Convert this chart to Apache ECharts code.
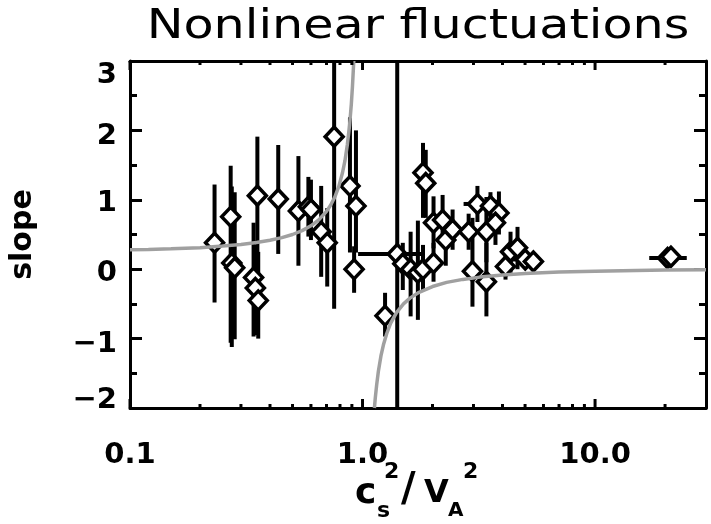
<!DOCTYPE html>
<html>
<head>
<meta charset="utf-8">
<script src="https://cdn.jsdelivr.net/npm/echarts@6/dist/echarts.min.js"></script>
<style>
html,body{margin:0;padding:0;background:#fff;}
#chart{width:711px;height:524px;}
</style>
</head>
<body>
<div id="chart"></div>
<script>
// ---- data ----
const pointX = [0.231,0.271,0.274,0.282,0.353,0.340,0.346,0.356,0.434,0.530,0.585,0.600,0.664,0.705,0.755,0.883,0.937,0.920,
  1.41,1.25,1.49,1.61,1.73,1.82,1.82,1.87,2.02,2.02,2.21,2.28,2.44,2.86,3.12,2.97,3.41,3.55,3.86,3.41,3.73,4.12,4.33,4.64,5.01,5.43,20.5,21.2];
const pointY = [0.38,0.755,0.09,0.02,1.06,-0.12,-0.27,-0.45,1.01,0.84,0.90,0.86,0.54,0.38,1.91,1.20,0.91,0.00,
  0.22,-0.67,0.08,0.00,-0.05,0.00,1.39,1.24,0.09,0.67,0.71,0.42,0.57,0.54,0.94,-0.03,-0.18,0.91,0.81,0.54,0.67,0.04,0.25,0.31,0.14,0.11,0.16,0.18];
const errHi = [1.22,1.49,1.19,1.11,1.91,0.67,0.35,0.25,1.79,1.63,1.33,1.29,1.20,0.88,4.4,2.19,2.0,0.33,
  6.0,-0.34,0.38,0.54,0.70,0.35,1.82,1.72,0.38,1.05,1.07,0.80,0.86,0.80,1.20,0.74,0.38,1.11,1.12,1.04,1.00,0.23,0.54,0.61,0.22,0.18,0.20,0.22];
const errLo = [-0.48,-1.06,-1.12,-1.01,0.24,-0.97,-0.95,-1.0,0.22,0.05,0.47,0.42,-0.11,-0.25,-0.57,0.24,0.24,-0.34,
  -6.0,-0.97,-0.30,-0.68,-0.73,-0.30,0.74,0.74,-0.18,0.30,0.35,0.05,0.28,0.28,0.68,-0.54,-0.68,0.60,0.50,0.10,0.35,-0.15,-0.05,0.00,0.06,0.04,0.12,0.14];
const xErrLo = {18:0.957, 19:1.18, 32:2.72, 42:4.30, 44:17.1};
const xErrHi = {18:1.83, 19:1.32, 32:3.50, 42:5.81, 44:24.8};

const curveLeftX = [0.1,0.12,0.15,0.2,0.25,0.3,0.35,0.4,0.45,0.5,0.55,0.6,0.65,0.7,0.73,0.76,0.79,0.82,0.84,0.86,0.88,0.895,0.905,0.917];
const curveLeftY = [0.28,0.284,0.294,0.31,0.333,0.357,0.385,0.417,0.455,0.5,0.556,0.625,0.714,0.833,0.926,1.04,1.19,1.39,1.56,1.79,2.08,2.38,2.63,3.0];
const curveRightX = [1.125,1.135,1.15,1.17,1.2,1.23,1.27,1.32,1.4,1.5,1.6,1.75,2,2.3,2.7,3.2,4,5,7,10,15,20,30];
const curveRightY = [-2.0,-1.85,-1.67,-1.47,-1.25,-1.09,-0.93,-0.78,-0.625,-0.5,-0.417,-0.333,-0.25,-0.19,-0.147,-0.114,-0.083,-0.0625,-0.042,-0.028,-0.018,-0.013,-0.009];

const xMajorTicks = [0.1, 1, 10];
const xMajorLabels = ['0.1', '1.0', '10.0'];
const xMinorTicks = [0.2,0.3,0.4,0.5,0.6,0.7,0.8,0.9,2,3,4,5,6,7,8,9,20];
const yTickValues = [-2, -1, 0, 1, 2, 3];
const yTickLabels = ['\u22122', '\u22121', '0', '1', '2', '3'];

const titleText = 'Nonlinear fluctuations';
const yName = 'slope';

// ---- chart ----
const chart = echarts.init(document.getElementById('chart'), null, {renderer: 'canvas'});
const FONT = 'DejaVu Sans';
const tickValues = xMajorTicks.map(v => [v, 1]).concat(xMinorTicks.map(v => [v, 0]));

// vertical nudges of the y tick labels (px, + = down)
const yLabelShift = [-8, 6, 4, 4, 6, 14];
const yRich = {};
yTickValues.forEach(function (v, k) {
  const s = yLabelShift[k];
  yRich['l' + k] = {
    color: '#000', fontFamily: FONT, fontSize: 29, fontWeight: 'bold',
    padding: s >= 0 ? [2 * s, 0, 0, 0] : [0, 0, -2 * s, 0]
  };
});

const xBase = {
  type: 'log', logBase: 10, min: 0.1, max: 30,
  axisLine: {show: true, onZero: false, lineStyle: {color: '#000', width: 3}},
  axisTick: {show: false}, minorTick: {show: false},
  splitLine: {show: false}, minorSplitLine: {show: false}
};
const yBase = {
  type: 'value', min: -2, max: 3, interval: 1,
  axisLine: {show: true, onZero: false, lineStyle: {color: '#000', width: 3}},
  axisTick: {show: true, inside: true, length: 12, lineStyle: {color: '#000', width: 3}},
  minorTick: {show: true, splitNumber: 2, length: 7, lineStyle: {color: '#000', width: 3}},
  splitLine: {show: false}, minorSplitLine: {show: false}
};

const option = {
  animation: false,
  backgroundColor: '#fff',
  grid: {left: 128, right: 5, top: 61, bottom: 116, containLabel: false},
  xAxis: [
    Object.assign({}, xBase, {
      position: 'bottom',
      axisLabel: {
        show: true, margin: 33, color: '#000', fontFamily: FONT, fontSize: 29, fontWeight: 'bold',
        formatter: function (v) {
          for (let k = 0; k < xMajorTicks.length; k++) {
            if (Math.abs(v - xMajorTicks[k]) / xMajorTicks[k] < 1e-6) return xMajorLabels[k];
          }
          return '';
        }
      }
    }),
    Object.assign({}, xBase, {position: 'top', axisLabel: {show: false}})
  ],
  yAxis: [
    Object.assign({}, yBase, {
      position: 'left',
      name: yName, nameLocation: 'middle', nameGap: 92, nameRotate: 90,
      nameTextStyle: {color: '#000', fontFamily: FONT, fontSize: 30, fontWeight: 'bold'},
      axisLabel: {
        show: true, margin: 13, color: '#000', fontFamily: FONT, fontSize: 29, fontWeight: 'bold',
        rich: yRich,
        formatter: function (v) {
          const k = yTickValues.indexOf(Math.round(v));
          return k >= 0 ? '{l' + k + '|' + yTickLabels[k] + '}' : '';
        }
      }
    }),
    Object.assign({}, yBase, {position: 'right', axisLabel: {show: false}})
  ],
  graphic: [
    {type: 'text', x: 418, y: 27, scaleX: 1.2, z: 10,
     style: {text: titleText, font: '41px "' + FONT + '"', fill: '#000', textAlign: 'center', textVerticalAlign: 'middle'}},
    {type: 'text', x: 355, y: 494, style: {text: 'c', font: 'bold 36px "' + FONT + '"', fill: '#000', textAlign: 'left', textVerticalAlign: 'middle'}},
    {type: 'text', x: 377, y: 511, style: {text: 's', font: 'bold 22px "' + FONT + '"', fill: '#000', textAlign: 'left', textVerticalAlign: 'middle'}},
    {type: 'text', x: 384, y: 472, style: {text: '2', font: 'bold 22px "' + FONT + '"', fill: '#000', textAlign: 'left', textVerticalAlign: 'middle'}},
    {type: 'text', x: 401, y: 491, style: {text: '/', font: 'bold 40px "' + FONT + '"', fill: '#000', textAlign: 'left', textVerticalAlign: 'middle'}},
    {type: 'text', x: 424, y: 494, style: {text: 'V', font: 'bold 32px "' + FONT + '"', fill: '#000', textAlign: 'left', textVerticalAlign: 'middle'}},
    {type: 'text', x: 448, y: 511, style: {text: 'A', font: 'bold 20px "' + FONT + '"', fill: '#000', textAlign: 'left', textVerticalAlign: 'middle'}},
    {type: 'text', x: 463, y: 472, style: {text: '2', font: 'bold 22px "' + FONT + '"', fill: '#000', textAlign: 'left', textVerticalAlign: 'middle'}}
  ],
  series: [
    {
      type: 'custom', name: 'errors', z: 2, silent: true,
      data: pointX.map((x, i) => [x, pointY[i]]),
      encode: {x: 0, y: 1},
      renderItem: function (params, api) {
        const i = params.dataIndex;
        const cs = params.coordSys;
        const clip = {x: cs.x, y: cs.y, width: cs.width, height: cs.height};
        const children = [];
        const t = api.coord([pointX[i], errHi[i]]);
        const b = api.coord([pointX[i], errLo[i]]);
        const rv = echarts.graphic.clipRectByRect({x: t[0] - 2, y: t[1], width: 4, height: b[1] - t[1]}, clip);
        if (rv) children.push({type: 'rect', shape: rv, style: {fill: '#000'}});
        if (xErrLo[i] !== undefined) {
          const l = api.coord([xErrLo[i], pointY[i]]);
          const r = api.coord([xErrHi[i], pointY[i]]);
          const rh = echarts.graphic.clipRectByRect({x: l[0], y: l[1] - 2, width: r[0] - l[0], height: 4}, clip);
          if (rh) children.push({type: 'rect', shape: rh, style: {fill: '#000'}});
        }
        return {type: 'group', children: children};
      }
    },
    {
      type: 'scatter', name: 'points', z: 3, silent: true,
      symbol: 'diamond', symbolSize: [18, 19],
      itemStyle: {color: '#fff', borderColor: '#000', borderWidth: 3.5, opacity: 1},
      data: pointX.map((x, i) => [x, pointY[i]])
    },
    {
      type: 'line', name: 'curveLeft', z: 4, silent: true, showSymbol: false, symbol: 'none',
      smooth: false, clip: true,
      lineStyle: {color: '#a0a0a0', width: 3.5},
      data: curveLeftX.map((x, i) => [x, curveLeftY[i]])
    },
    {
      type: 'line', name: 'curveRight', z: 4, silent: true, showSymbol: false, symbol: 'none',
      smooth: false, clip: true,
      lineStyle: {color: '#a0a0a0', width: 3.5},
      data: curveRightX.map((x, i) => [x, curveRightY[i]])
    },
    {
      type: 'custom', name: 'xticks', z: 5, silent: true,
      data: tickValues,
      encode: {x: 0},
      renderItem: function (params, api) {
        const v = tickValues[params.dataIndex][0];
        const major = tickValues[params.dataIndex][1] === 1;
        const L = major ? 9 : 4;
        const pb = api.coord([v, -2]);
        const pt = api.coord([v, 3]);
        return {type: 'group', children: [
          {type: 'line', shape: {x1: pb[0], y1: pb[1], x2: pb[0], y2: pb[1] - L}, style: {stroke: '#000', lineWidth: 3}},
          {type: 'line', shape: {x1: pt[0], y1: pt[1], x2: pt[0], y2: pt[1] + L}, style: {stroke: '#000', lineWidth: 3}}
        ]};
      }
    }
  ]
};
chart.setOption(option);
</script>
</body>
</html>
